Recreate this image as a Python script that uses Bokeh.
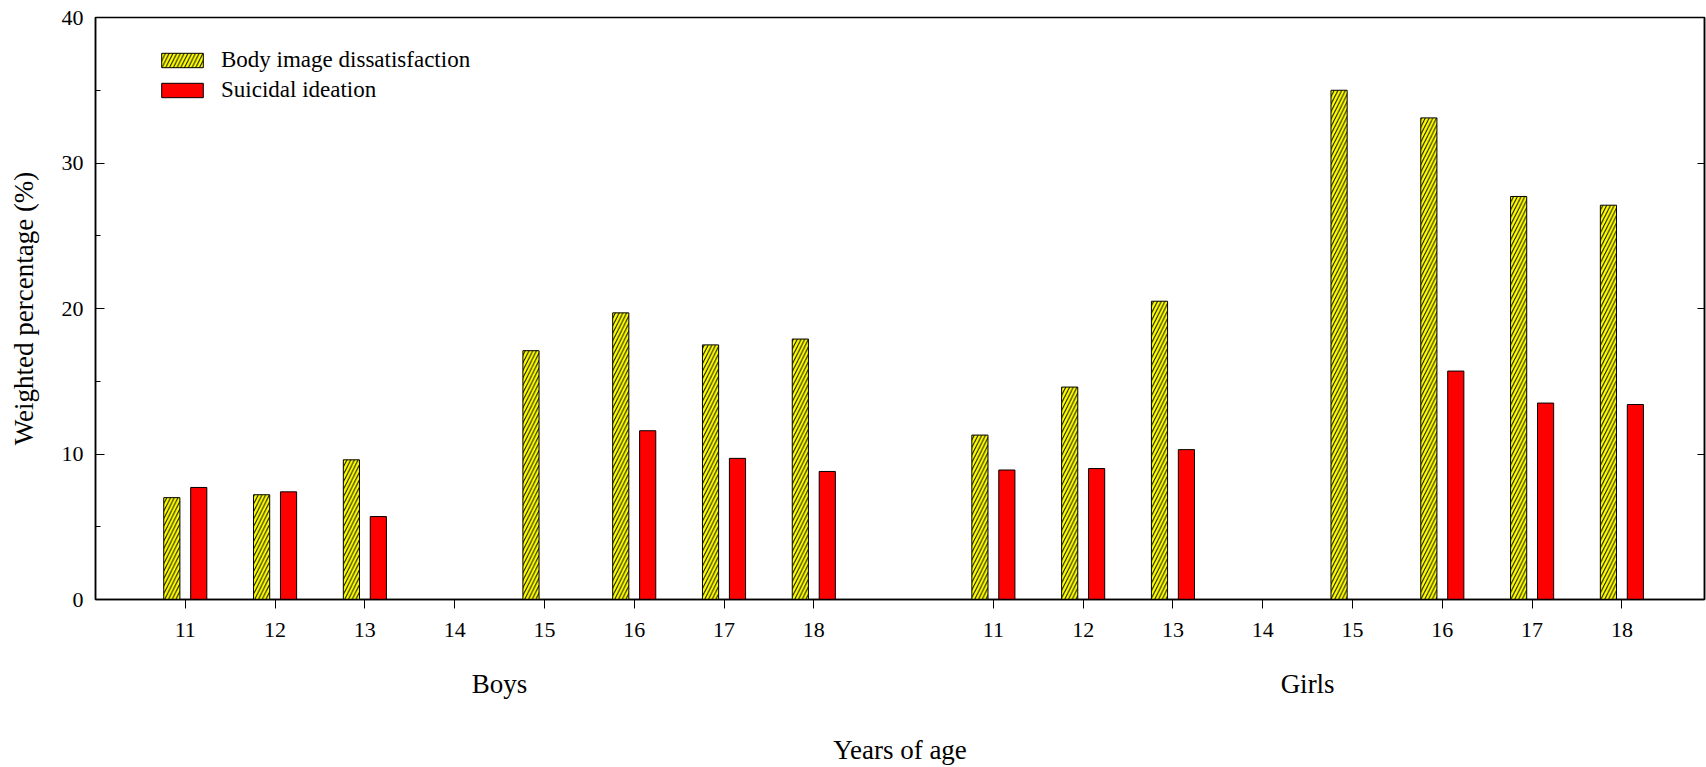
from bokeh.plotting import figure
from bokeh.models import (ColumnDataSource, Range1d, LinearAxis, FixedTicker,
                          SingleIntervalTicker, Legend, LegendItem)
from bokeh.embed import file_html
from bokeh.resources import INLINE

# ---- data ----
ages = [11, 12, 13, 14, 15, 16, 17, 18]
boys_body = [7.0, 7.2, 9.6, None, 17.1, 19.7, 17.5, 17.9]
boys_suicidal = [7.7, 7.4, 5.7, None, None, 11.6, 9.7, 8.8]
girls_body = [11.3, 14.6, 20.5, None, 35.0, 33.1, 27.7, 27.1]
girls_suicidal = [8.9, 9.0, 10.3, None, None, 15.7, 13.5, 13.4]
groups = ["Boys", "Girls"]
series = ["Body image dissatisfaction", "Suicidal ideation"]
x_title = "Years of age"
y_title = "Weighted percentage (%)"
right_ticks = [10, 20, 30]

# ---- layout constants ----
GIRLS_SHIFT = 9      # girls panel placed after boys panel
BAR_OFF = 0.15
BAR_W = 0.18
FONT = "Liberation Serif"


def build(boys, girls, off):
    xs, tops = [], []
    for a, v in zip(ages, boys):
        if v is not None:
            xs.append(a + off)
            tops.append(v)
    for a, v in zip(ages, girls):
        if v is not None:
            xs.append(a + GIRLS_SHIFT + off)
            tops.append(v)
    return ColumnDataSource(dict(x=xs, top=tops))


src_body = build(boys_body, girls_body, -BAR_OFF)
src_sui = build(boys_suicidal, girls_suicidal, BAR_OFF)

p = figure(width=1706, height=767,
           x_range=Range1d(10, 27.92), y_range=Range1d(0, 40),
           output_backend="svg", toolbar_location=None,
           min_border_left=95, min_border_right=2,
           min_border_top=17, min_border_bottom=168)

p.xgrid.visible = False
p.ygrid.visible = False
p.outline_line_color = "black"
p.outline_line_width = 1.5
p.background_fill_color = "white"
p.border_fill_color = "white"

r_body = p.vbar(x="x", top="top", width=BAR_W, bottom=0, source=src_body,
                fill_color="#ffff00", line_color="black", line_width=1,
                hatch_pattern="/", hatch_color="black", hatch_scale=7.5,
                hatch_weight=1)
r_sui = p.vbar(x="x", top="top", width=BAR_W, bottom=0, source=src_sui,
               fill_color="#ff0000", line_color="black", line_width=1)

# x axis (ages)
xa = p.xaxis[0]
tick_pos = list(ages) + [a + GIRLS_SHIFT for a in ages]
xa.ticker = FixedTicker(ticks=tick_pos)
xa.major_label_overrides = {a + GIRLS_SHIFT: str(a) for a in ages}
xa.major_tick_in = 0
xa.major_tick_out = 9
xa.minor_tick_line_color = None
xa.major_label_standoff = 14
xa.major_label_text_font = FONT
xa.major_label_text_font_size = "22px"
xa.major_label_text_color = "black"
xa.axis_line_width = 1.5

# second x axis: group names + axis title
centers = [sum(ages) / len(ages) + i * GIRLS_SHIFT for i in range(len(groups))]
ga = LinearAxis(ticker=FixedTicker(ticks=centers))
ga.major_label_overrides = {c: g for c, g in zip(centers, groups)}
ga.axis_line_color = None
ga.major_tick_line_color = None
ga.minor_tick_line_color = None
ga.major_tick_in = 0
ga.major_tick_out = 0
ga.major_label_standoff = 29
ga.major_label_text_font = FONT
ga.major_label_text_font_size = "27px"
ga.major_label_text_color = "black"
ga.axis_label = x_title
ga.axis_label_text_font = FONT
ga.axis_label_text_font_size = "27px"
ga.axis_label_text_font_style = "normal"
ga.axis_label_text_color = "black"
ga.axis_label_standoff = 33
p.add_layout(ga, "below")

# left y axis
ya = p.yaxis[0]
ya.ticker = SingleIntervalTicker(interval=10, num_minor_ticks=2)
ya.major_tick_in = 9
ya.major_tick_out = 0
ya.minor_tick_in = 5
ya.minor_tick_out = 0
ya.major_label_standoff = 12
ya.major_label_text_font = FONT
ya.major_label_text_font_size = "22px"
ya.major_label_text_color = "black"
ya.axis_label = y_title
ya.axis_label_text_font = FONT
ya.axis_label_text_font_size = "27px"
ya.axis_label_text_font_style = "normal"
ya.axis_label_text_color = "black"
ya.axis_label_standoff = 20
ya.axis_line_width = 1.5

# right y axis (ticks only, no labels)
ra = LinearAxis(ticker=FixedTicker(ticks=right_ticks))
ra.major_label_overrides = {t: "" for t in right_ticks}
ra.major_tick_in = 7
ra.major_tick_out = 0
ra.major_label_standoff = 0
ra.axis_line_width = 1.5
p.add_layout(ra, "right")

legend = Legend(items=[LegendItem(label=series[0], renderers=[r_body]),
                       LegendItem(label=series[1], renderers=[r_sui])],
                location=(61, 496), glyph_width=52, glyph_height=18,
                label_standoff=13, spacing=3, padding=0, margin=0,
                label_height=27, border_line_color=None,
                background_fill_alpha=0, label_text_font=FONT,
                label_text_font_size="23px", label_text_color="black")
p.add_layout(legend)

open("out.html", "w").write(file_html(p, INLINE))
